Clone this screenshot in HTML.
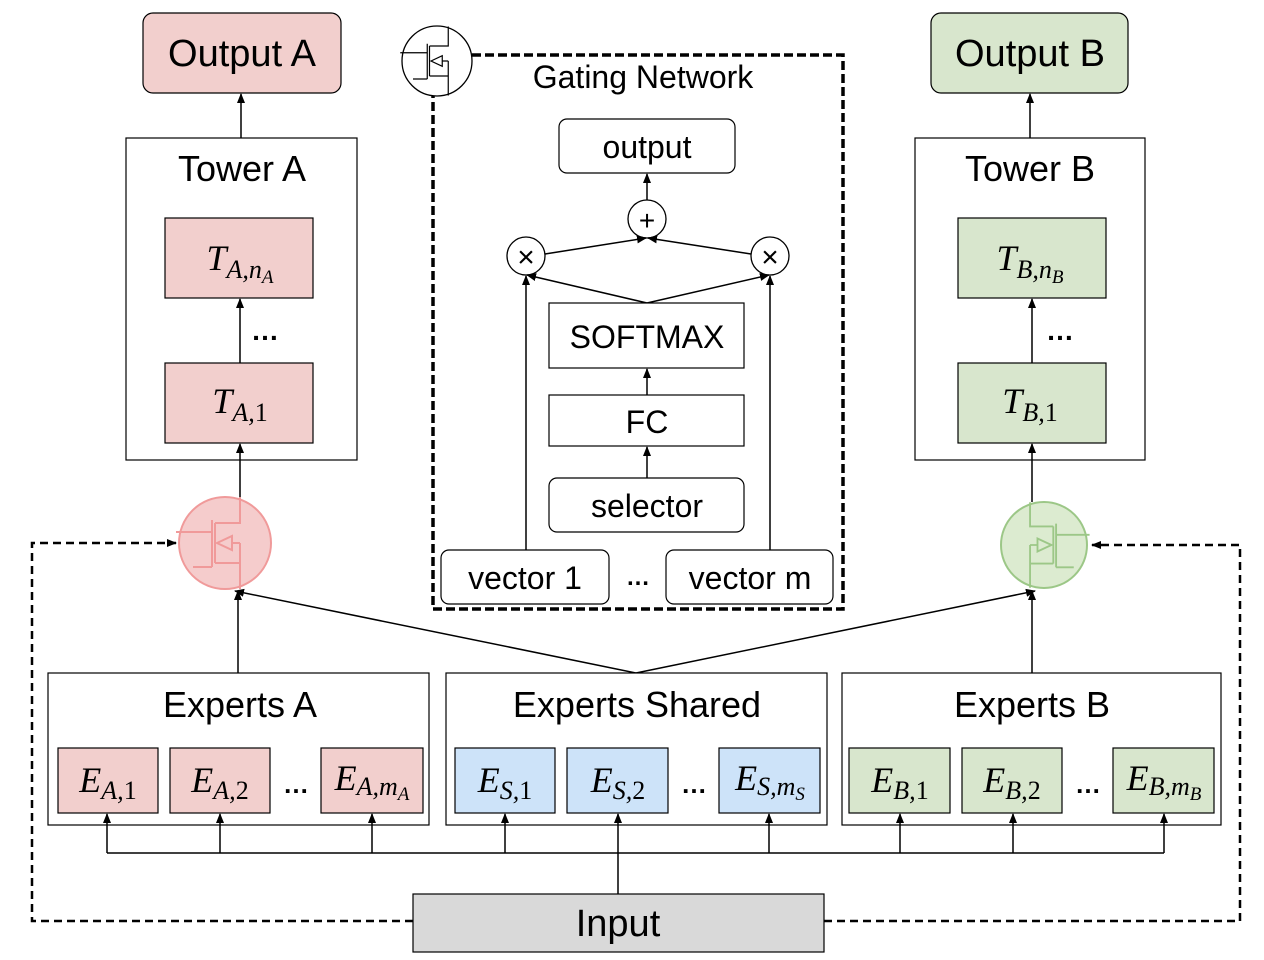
<!DOCTYPE html>
<html><head><meta charset="utf-8"><style>
html,body{margin:0;padding:0;background:#fff;}
svg{display:block;}
.t{font-family:"Liberation Sans",sans-serif;fill:#000;text-anchor:middle;}
.m{font-family:"Liberation Serif",serif;font-style:italic;fill:#000;text-anchor:middle;}
.u{font-style:normal;}
.d{font-weight:bold;}
</style></head><body>
<svg width="1264" height="960" viewBox="0 0 1264 960" xmlns="http://www.w3.org/2000/svg">
<defs>
<marker id="a" markerWidth="10" markerHeight="10" refX="9" refY="5" orient="auto" markerUnits="userSpaceOnUse"><path d="M0,1 L10,5 L0,9 Z" fill="#000"/></marker>
<g id="mos">
<path d="M-49,-11 H-13 M-13,-23 V24 M-32,24 H-13 M-10,-20 V20 M-10,-20 H15 V-46 M-10,20 H15 M15,0 V46 M7,0 H15" fill="none"/>
<path d="M-8,0 L7,-7 L7,7 Z" fill="none"/>
</g>
</defs>

<rect x="143" y="13" width="198" height="80" rx="10" fill="#f2cfcd" stroke="#000" stroke-width="1.2"/>
<text class="t" x="242" y="66" font-size="38">Output A</text>
<rect x="931" y="13" width="197" height="80" rx="10" fill="#d8e6cd" stroke="#000" stroke-width="1.2"/>
<text class="t" x="1030" y="66" font-size="38">Output B</text>

<rect x="126" y="138" width="231" height="322" fill="#fff" stroke="#000" stroke-width="1.2"/>
<text class="t" x="242" y="181" font-size="36">Tower A</text>
<rect x="165" y="218" width="148" height="80" fill="#f2cfcd" stroke="#000" stroke-width="1.2"/>
<text class="m" x="240" y="270" font-size="36">T<tspan font-size="26" dy="8">A,n</tspan><tspan font-size="19" dy="5">A</tspan></text>
<rect x="165" y="363" width="148" height="80" fill="#f2cfcd" stroke="#000" stroke-width="1.2"/>
<text class="m" x="240" y="413" font-size="36">T<tspan font-size="26" dy="8">A,<tspan class="u">1</tspan></tspan></text>
<line x1="240" y1="363" x2="240" y2="299" stroke="#000" stroke-width="1.5" marker-end="url(#a)"/>
<text class="t d" x="265" y="340" font-size="28">…</text>
<line x1="241" y1="138" x2="241" y2="94" stroke="#000" stroke-width="1.5" marker-end="url(#a)"/>

<rect x="915" y="138" width="230" height="322" fill="#fff" stroke="#000" stroke-width="1.2"/>
<text class="t" x="1030" y="181" font-size="36">Tower B</text>
<rect x="958" y="218" width="148" height="80" fill="#d8e6cd" stroke="#000" stroke-width="1.2"/>
<text class="m" x="1030" y="270" font-size="36">T<tspan font-size="26" dy="8">B,n</tspan><tspan font-size="19" dy="5">B</tspan></text>
<rect x="958" y="363" width="148" height="80" fill="#d8e6cd" stroke="#000" stroke-width="1.2"/>
<text class="m" x="1030" y="413" font-size="36">T<tspan font-size="26" dy="8">B,<tspan class="u">1</tspan></tspan></text>
<line x1="1032" y1="363" x2="1032" y2="299" stroke="#000" stroke-width="1.5" marker-end="url(#a)"/>
<text class="t d" x="1060" y="340" font-size="28">…</text>
<line x1="1030" y1="138" x2="1030" y2="94" stroke="#000" stroke-width="1.5" marker-end="url(#a)"/>

<line x1="240" y1="497" x2="240" y2="444" stroke="#000" stroke-width="1.5" marker-end="url(#a)"/>
<circle cx="225" cy="543" r="46" fill="#f5cccc" stroke="#f09a9a" stroke-width="2"/>
<use href="#mos" transform="translate(225,543)" stroke="#f09a9a" stroke-width="2"/>
<line x1="1032" y1="502" x2="1032" y2="444" stroke="#000" stroke-width="1.5" marker-end="url(#a)"/>
<circle cx="1044" cy="545" r="43" fill="#dcebd0" stroke="#9cc787" stroke-width="2"/>
<use href="#mos" transform="translate(1044,545) scale(-0.93,0.93)" stroke="#9cc787" stroke-width="2"/>

<rect x="433" y="55" width="410" height="554" fill="none" stroke="#000" stroke-width="3.5" stroke-dasharray="9,4"/>
<circle cx="437" cy="61" r="35" fill="#fff" stroke="#000" stroke-width="1.3"/>
<use href="#mos" transform="translate(437,61) scale(0.75)" stroke="#000" stroke-width="1.6"/>
<text class="t" x="643" y="88" font-size="32">Gating Network</text>
<rect x="559" y="119" width="176" height="54" rx="8" fill="#fff" stroke="#000" stroke-width="1.2"/>
<text class="t" x="647" y="158" font-size="32">output</text>
<line x1="647" y1="200" x2="647" y2="174" stroke="#000" stroke-width="1.5" marker-end="url(#a)"/>
<circle cx="647" cy="219" r="19" fill="#fff" stroke="#000" stroke-width="1.3"/>
<text class="t" x="647" y="230" font-size="28">+</text>
<line x1="545" y1="254" x2="646" y2="238" stroke="#000" stroke-width="1.5" marker-end="url(#a)"/>
<line x1="751" y1="254" x2="648" y2="238" stroke="#000" stroke-width="1.5" marker-end="url(#a)"/>
<circle cx="526" cy="256" r="19" fill="#fff" stroke="#000" stroke-width="1.3"/>
<text class="t" x="526" y="267" font-size="30">×</text>
<circle cx="770" cy="256" r="19" fill="#fff" stroke="#000" stroke-width="1.3"/>
<text class="t" x="770" y="267" font-size="30">×</text>
<line x1="647" y1="303" x2="527" y2="275" stroke="#000" stroke-width="1.5" marker-end="url(#a)"/>
<line x1="647" y1="303" x2="769" y2="275" stroke="#000" stroke-width="1.5" marker-end="url(#a)"/>
<line x1="526" y1="550" x2="526" y2="276" stroke="#000" stroke-width="1.5" marker-end="url(#a)"/>
<line x1="770" y1="550" x2="770" y2="276" stroke="#000" stroke-width="1.5" marker-end="url(#a)"/>
<rect x="549" y="303" width="195" height="65" fill="#fff" stroke="#000" stroke-width="1.2"/>
<text class="t" x="647" y="348" font-size="32">SOFTMAX</text>
<line x1="647" y1="395" x2="647" y2="369" stroke="#000" stroke-width="1.5" marker-end="url(#a)"/>
<rect x="549" y="395" width="195" height="51" fill="#fff" stroke="#000" stroke-width="1.2"/>
<text class="t" x="647" y="433" font-size="32">FC</text>
<line x1="647" y1="478" x2="647" y2="447" stroke="#000" stroke-width="1.5" marker-end="url(#a)"/>
<rect x="549" y="478" width="195" height="54" rx="8" fill="#fff" stroke="#000" stroke-width="1.2"/>
<text class="t" x="647" y="517" font-size="32">selector</text>
<rect x="441" y="550" width="168" height="54" rx="8" fill="#fff" stroke="#000" stroke-width="1.2"/>
<text class="t" x="525" y="589" font-size="32">vector 1</text>
<text class="t d" x="638" y="585" font-size="24">…</text>
<rect x="666" y="550" width="167" height="54" rx="8" fill="#fff" stroke="#000" stroke-width="1.2"/>
<text class="t" x="750" y="589" font-size="32">vector m</text>

<line x1="238" y1="673" x2="238" y2="591" stroke="#000" stroke-width="1.5" marker-end="url(#a)"/>
<line x1="636" y1="673" x2="235" y2="591" stroke="#000" stroke-width="1.5" marker-end="url(#a)"/>
<line x1="636" y1="673" x2="1035" y2="591" stroke="#000" stroke-width="1.5" marker-end="url(#a)"/>
<line x1="1032" y1="673" x2="1032" y2="591" stroke="#000" stroke-width="1.5" marker-end="url(#a)"/>

<rect x="48" y="673" width="381" height="152" fill="#fff" stroke="#000" stroke-width="1.2"/>
<text class="t" x="240" y="717" font-size="36">Experts A</text>
<rect x="58" y="748" width="100" height="65" fill="#f2cfcd" stroke="#000" stroke-width="1.2"/>
<text class="m" x="108" y="792" font-size="36">E<tspan font-size="26" dy="7">A,<tspan class="u">1</tspan></tspan></text>
<rect x="170" y="748" width="100" height="65" fill="#f2cfcd" stroke="#000" stroke-width="1.2"/>
<text class="m" x="220" y="792" font-size="36">E<tspan font-size="26" dy="7">A,<tspan class="u">2</tspan></tspan></text>
<text class="t d" x="296" y="793" font-size="26">…</text>
<rect x="321" y="748" width="102" height="65" fill="#f2cfcd" stroke="#000" stroke-width="1.2"/>
<text class="m" x="372" y="790" font-size="36">E<tspan font-size="26" dy="5">A,m</tspan><tspan font-size="19" dy="5">A</tspan></text>

<rect x="446" y="673" width="381" height="152" fill="#fff" stroke="#000" stroke-width="1.2"/>
<text class="t" x="637" y="717" font-size="36">Experts Shared</text>
<rect x="455" y="748" width="100" height="65" fill="#cde3f9" stroke="#000" stroke-width="1.2"/>
<text class="m" x="505" y="792" font-size="36">E<tspan font-size="26" dy="7">S,<tspan class="u">1</tspan></tspan></text>
<rect x="567" y="748" width="101" height="65" fill="#cde3f9" stroke="#000" stroke-width="1.2"/>
<text class="m" x="618" y="792" font-size="36">E<tspan font-size="26" dy="7">S,<tspan class="u">2</tspan></tspan></text>
<text class="t d" x="694" y="793" font-size="26">…</text>
<rect x="719" y="748" width="101" height="65" fill="#cde3f9" stroke="#000" stroke-width="1.2"/>
<text class="m" x="770" y="790" font-size="36">E<tspan font-size="26" dy="5">S,m</tspan><tspan font-size="19" dy="5">S</tspan></text>

<rect x="842" y="673" width="379" height="152" fill="#fff" stroke="#000" stroke-width="1.2"/>
<text class="t" x="1032" y="717" font-size="36">Experts B</text>
<rect x="849" y="748" width="101" height="65" fill="#d8e6cd" stroke="#000" stroke-width="1.2"/>
<text class="m" x="900" y="792" font-size="36">E<tspan font-size="26" dy="7">B,<tspan class="u">1</tspan></tspan></text>
<rect x="962" y="748" width="100" height="65" fill="#d8e6cd" stroke="#000" stroke-width="1.2"/>
<text class="m" x="1012" y="792" font-size="36">E<tspan font-size="26" dy="7">B,<tspan class="u">2</tspan></tspan></text>
<text class="t d" x="1088" y="793" font-size="26">…</text>
<rect x="1113" y="748" width="101" height="65" fill="#d8e6cd" stroke="#000" stroke-width="1.2"/>
<text class="m" x="1164" y="790" font-size="36">E<tspan font-size="26" dy="5">B,m</tspan><tspan font-size="19" dy="5">B</tspan></text>

<path d="M107,853 H1164 M618,894 V853" fill="none" stroke="#000" stroke-width="1.5"/>
<g stroke="#000" stroke-width="1.5" marker-end="url(#a)">
<line x1="107" y1="853" x2="107" y2="814"/>
<line x1="220" y1="853" x2="220" y2="814"/>
<line x1="372" y1="853" x2="372" y2="814"/>
<line x1="505" y1="853" x2="505" y2="814"/>
<line x1="618" y1="853" x2="618" y2="814"/>
<line x1="769" y1="853" x2="769" y2="814"/>
<line x1="900" y1="853" x2="900" y2="814"/>
<line x1="1013" y1="853" x2="1013" y2="814"/>
<line x1="1164" y1="853" x2="1164" y2="814"/>
</g>

<rect x="413" y="894" width="411" height="58" fill="#d9d9d9" stroke="#000" stroke-width="1.2"/>
<text class="t" x="618" y="936" font-size="38">Input</text>
<path d="M413,921 H32 V543 H176" fill="none" stroke="#000" stroke-width="2.5" stroke-dasharray="8,5" marker-end="url(#a)"/>
<path d="M824,921 H1240 V545 H1092" fill="none" stroke="#000" stroke-width="2.5" stroke-dasharray="8,5" marker-end="url(#a)"/>
</svg>
</body></html>
